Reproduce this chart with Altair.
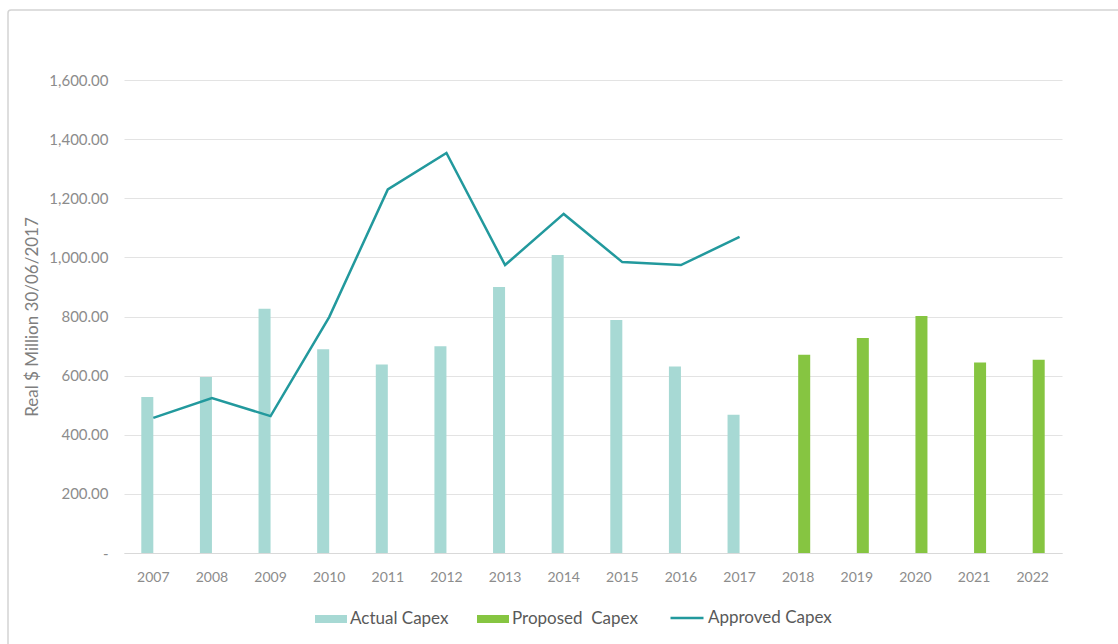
import altair as alt
import pandas as pd

years = [str(y) for y in range(2007, 2023)]
actual_years = years[:11]
proposed_years = years[11:]
actual_capex = [528, 595, 826, 689, 638, 699, 900, 1008, 788, 631, 468]
proposed_capex = [671, 727, 802, 644, 654]
approved_capex = [457, 524, 463, 798, 1230, 1353, 974, 1147, 984, 974, 1069]

series_names = ["Actual Capex", "Proposed\u00a0 Capex", "Approved Capex"]
bar_colors = ["#A7D9D4", "#86C541"]
line_color = "#22999D"

bars_df = pd.DataFrame(
    {"year": actual_years, "series": series_names[0], "value": actual_capex}
)
bars_df = pd.concat(
    [bars_df, pd.DataFrame({"year": proposed_years, "series": series_names[1], "value": proposed_capex})],
    ignore_index=True,
)
line_df = pd.DataFrame({"year": actual_years, "series": series_names[2], "value": approved_capex})

FONT = "Lato"

x_enc = alt.X(
    "year:N",
    sort=years,
    scale=alt.Scale(domain=years, paddingInner=0.59, paddingOuter=0.295),
    axis=alt.Axis(
        title=None,
        labelAngle=0,
        ticks=False,
        domainColor="#D9D9D9",
        labelColor="#8C8C8C",
        labelFontSize=14,
        labelPadding=17,
        grid=False,
    ),
)

y_enc = alt.Y(
    "value:Q",
    scale=alt.Scale(domain=[0, 1600], nice=False),
    axis=alt.Axis(
        title="Real $ Million 30/06/2017",
        values=[0, 200, 400, 600, 800, 1000, 1200, 1400, 1600],
        labelExpr="datum.value == 0 ? '-' : format(datum.value, ',.2f')",
        ticks=False,
        domain=False,
        labelPadding=16,
        labelColor="#8C8C8C",
        labelFontSize=15,
        gridColor="#E3E3E3",
        titleColor="#7F7F7F",
        titleFontSize=17,
        titleFontWeight="normal",
        titleX=-92,
        titleAlign="center",
        titleBaseline="middle",
    ),
)

bars = alt.Chart(bars_df).mark_bar().encode(
    x=x_enc,
    xOffset=alt.XOffset(
        "series:N",
        scale=alt.Scale(domain=series_names[:2], paddingInner=0, paddingOuter=0),
    ),
    y=y_enc,
    color=alt.Color(
        "series:N",
        scale=alt.Scale(domain=series_names[:2], range=bar_colors),
        legend=alt.Legend(
            title=None,
            orient="none",
            direction="horizontal",
            legendX=191,
            legendY=523,
            symbolType="M-1,-0.25H1V0.25H-1Z",
            symbolSize=1024,
            symbolStrokeWidth=0,
            labelFontSize=17,
            labelColor="#595959",
            labelOffset=3,
            columnPadding=28,
            padding=0,
        ),
    ),
)

line = alt.Chart(line_df).mark_line(strokeWidth=2.5).encode(
    x=alt.X("year:N", sort=years),
    y=alt.Y("value:Q"),
    stroke=alt.Stroke(
        "series:N",
        scale=alt.Scale(domain=[series_names[2]], range=[line_color]),
        legend=alt.Legend(
            title=None,
            orient="none",
            direction="horizontal",
            legendX=545,
            legendY=520,
            symbolType="M-1,0H1",
            symbolSize=1089,
            symbolStrokeWidth=2.5,
            labelFontSize=17,
            labelColor="#595959",
            labelOffset=3,
            padding=0,
        ),
    ),
)

frame = alt.Chart(pd.DataFrame({"k": [0]})).mark_rect(
    fill="transparent", stroke="#D4D4D4", strokeWidth=1.5, cornerRadius=3, clip=False
).encode(
    x=alt.value(-116), x2=alt.value(1000), y=alt.value(-70), y2=alt.value(580)
)

chart = (
    alt.layer(frame, bars, line)
    .properties(
        width=938,
        height=473,
        autosize=alt.AutoSizeParams(type="none"),
        padding={"left": 124, "top": 80, "right": 56, "bottom": 91},
        background="white",
        view=alt.ViewBackground(stroke="transparent", strokeWidth=0),
    )
    .configure_view(stroke="transparent", strokeWidth=0)
    .configure(font=FONT)
)

chart.save("out.html", embed_options={"renderer": "svg", "actions": False})
